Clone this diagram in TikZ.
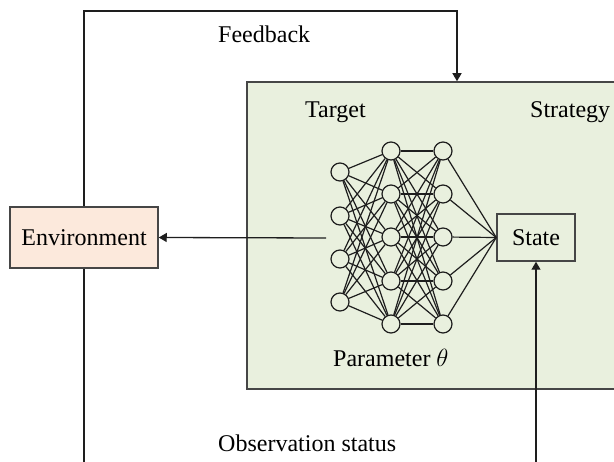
\documentclass[tikz,border=0pt]{standalone}
\usepackage{fontspec}
\setmainfont{Liberation Serif}
\usetikzlibrary{arrows.meta}
\definecolor{boxgreen}{RGB}{233,240,222}
\definecolor{envpeach}{RGB}{252,233,220}
\definecolor{lineclr}{RGB}{30,30,30}
\definecolor{borderclr}{RGB}{70,70,70}
\tikzset{
  txt/.style={font=\fontsize{24}{28}\selectfont, inner sep=0pt},
  neuron/.style={circle, draw=lineclr, fill=boxgreen, line width=1.2pt, minimum size=18pt, inner sep=0pt},
  wire/.style={draw=lineclr, line width=1.2pt},
  conn/.style={draw=lineclr, line width=1.3pt},
  arr/.style={conn, -{Triangle[length=8pt,width=9pt]}},
  boxstyle/.style={draw=borderclr, line width=1.5pt, rectangle, inner sep=0pt, font=\fontsize{24}{28}\selectfont}
}
\begin{document}
\begin{tikzpicture}[x=1pt,y=-1pt]
\useasboundingbox (0,0) rectangle (614,462);
\clip (0,0) rectangle (614,462);
\fill[white] (0,0) rectangle (614,462);
% strategy box
\node[boxstyle, fill=boxgreen, minimum width=433pt, minimum height=307pt] (strat) at (463.5,235.5) {};
\node[txt, anchor=west] (target) at (305,112) {Target};
\node[txt, anchor=west] (strategy) at (530,112) {Strategy};
\node[txt, anchor=west] (param) at (333,358) {Parameter $\theta$};
% network
\foreach \i/\yy in {1/172,2/216,3/259,4/302} \node[neuron] (a\i) at (340,\yy) {};
\foreach \i/\yy in {1/151,2/194,3/237,4/281,5/324} \node[neuron] (b\i) at (391,\yy) {};
\foreach \i/\yy in {1/151,2/194,3/237,4/281,5/324} \node[neuron] (c\i) at (443,\yy) {};
\node[boxstyle, fill=boxgreen, minimum width=78pt, minimum height=47pt] (state) at (536,237.5) {State};
\foreach \i in {1,...,4}
  \foreach \j in {1,...,5}
    \draw[wire] (a\i) -- (b\j);
\foreach \i in {1,...,5}
  \foreach \j in {1,...,5}
    \draw[wire] (b\i) -- (c\j);
\foreach \j in {1,...,5}
  \draw[wire] (c\j) -- (state.west);
% environment
\node[boxstyle, fill=envpeach, minimum width=148pt, minimum height=61pt] (env) at (84,237.5) {Environment};
% connectors
\coordinate (fb) at (457,11);
\draw[arr] (env.north) |- (fb) -- (fb |- strat.north);
\node[txt, anchor=west] (fbl) at (218,34) {Feedback};
\coordinate (nin) at (326,238);
\draw[arr] (nin) -- (env.east);
\coordinate (envbot) at (84,475);
\draw[conn] (env.south) -- (envbot);
\coordinate (obs) at (536,475);
\draw[arr] (obs) -- (state.south);
\node[txt, anchor=west] (obsl) at (218,443) {Observation status};
\end{tikzpicture}
\end{document}
